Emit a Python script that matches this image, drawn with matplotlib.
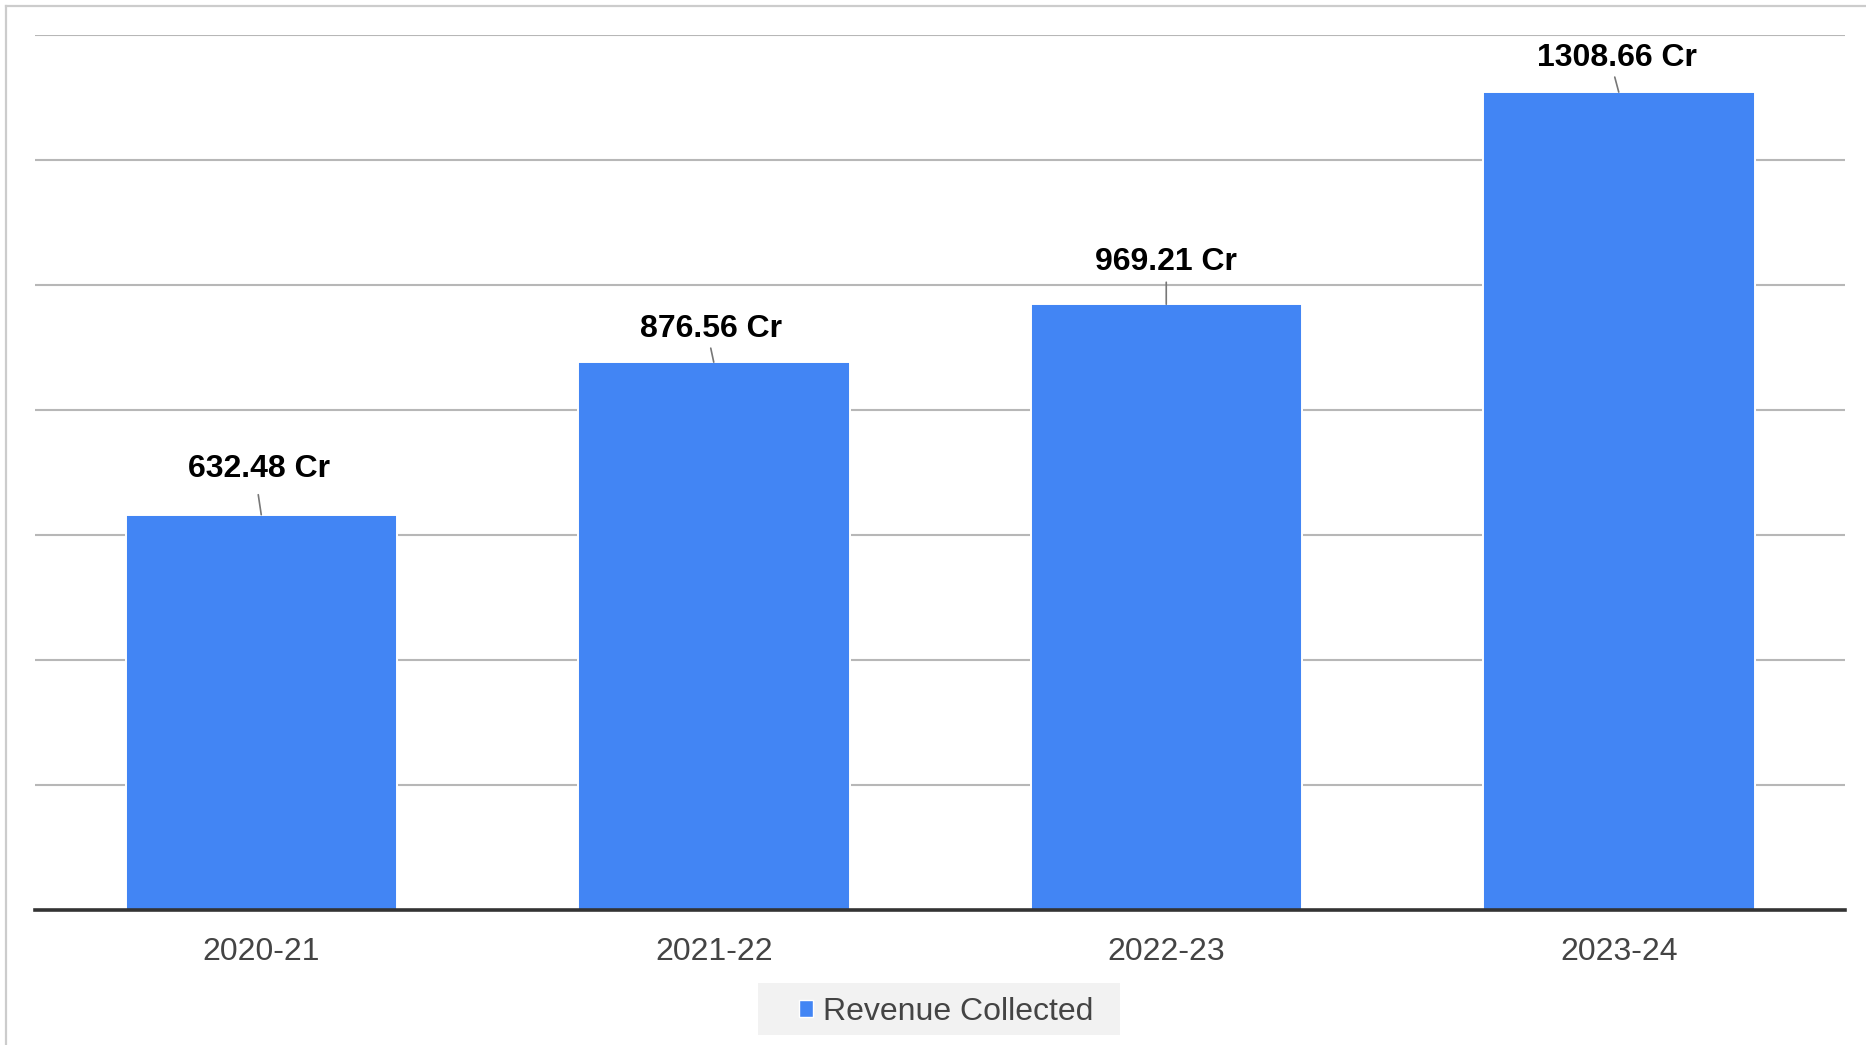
import matplotlib.pyplot as plt
from matplotlib.lines import Line2D
from matplotlib.patches import Patch, Rectangle

# 数据
years = ['2020-21', '2021-22', '2022-23', '2023-24']
revenue = [632.48, 876.56, 969.21, 1308.66]
y_ticks = [0, 200, 400, 600, 800, 1000, 1200, 1400]

# 标签位置微调（像素）：文字底部距柱顶、引线长度、引线偏移、文字偏移
label_gap = [38, 25, 34, 26]
leader_len = [20, 14, 22, 15]
leader_dx = [-3, -3, 0, -4]
text_dx = [-2.5, -3, 0, -2]

plt.rcParams['font.family'] = ['Liberation Sans', 'DejaVu Sans']

W, H = 1866, 1045
px = 72 / 100  # 像素 -> 点

fig = plt.figure(figsize=(W / 100, H / 100), dpi=100)
ax = fig.add_axes([35 / W, 1 - 910 / H, 1810 / W, 875 / H])

# 网格线
for t in y_ticks[1:]:
    ax.axhline(t, color='#b7b7b7', lw=1.5, zorder=0)
ax.axhline(0, color='#333333', lw=2.6, zorder=5, clip_on=False)

ax.bar(range(len(years)), revenue, width=0.6, color='#4285f4',
       edgecolor='white', linewidth=1.4, zorder=2)

# 数值标签 + 引线
for i, v in enumerate(revenue):
    ax.annotate('', xy=(i, v), xycoords='data',
                xytext=(leader_dx[i] * px, leader_len[i] * px), textcoords='offset points',
                arrowprops=dict(arrowstyle='-', color='#777777', lw=1.2,
                                shrinkA=0, shrinkB=0), zorder=4)
    ax.annotate(f'{v:.2f} Cr', xy=(i, v),
                xytext=(text_dx[i] * px, label_gap[i] * px), textcoords='offset points',
                ha='center', va='baseline', fontsize=23, fontweight='bold',
                color='black', zorder=4)

ax.set_xlim(-0.5, 3.5)
ax.set_ylim(0, 1400)
ax.set_xticks(range(len(years)))
ax.set_xticklabels(years, fontsize=23, color='#444444')
ax.tick_params(axis='x', length=0, pad=19.5)
ax.set_yticks([])
for s in ax.spines.values():
    s.set_visible(False)

# 图例背景
fig.add_artist(Rectangle((758 / W, 1 - 1035 / H), 362 / W, 52 / H,
                         transform=fig.transFigure, facecolor='#f2f2f2',
                         edgecolor='none', zorder=1))
handle = Patch(facecolor='#4285f4', edgecolor='white', lw=1)
leg = fig.legend([handle], ['Revenue Collected'], loc='center',
                 bbox_to_anchor=(946 / W, 1 - 1012 / H), fontsize=23,
                 frameon=False, handlelength=0.45, handleheight=0.45,
                 handletextpad=0.3, borderpad=0, borderaxespad=0)
leg.set_zorder(2)
for txt in leg.get_texts():
    txt.set_color('#444444')

# 外框（左、上）
fig.add_artist(Line2D([6 / W, 6 / W], [0, 1 - 6 / H], color='#cccccc', lw=1.6))
fig.add_artist(Line2D([6 / W, 1], [1 - 6 / H, 1 - 6 / H], color='#cccccc', lw=1.6))

fig.savefig('out.png', dpi=100)
